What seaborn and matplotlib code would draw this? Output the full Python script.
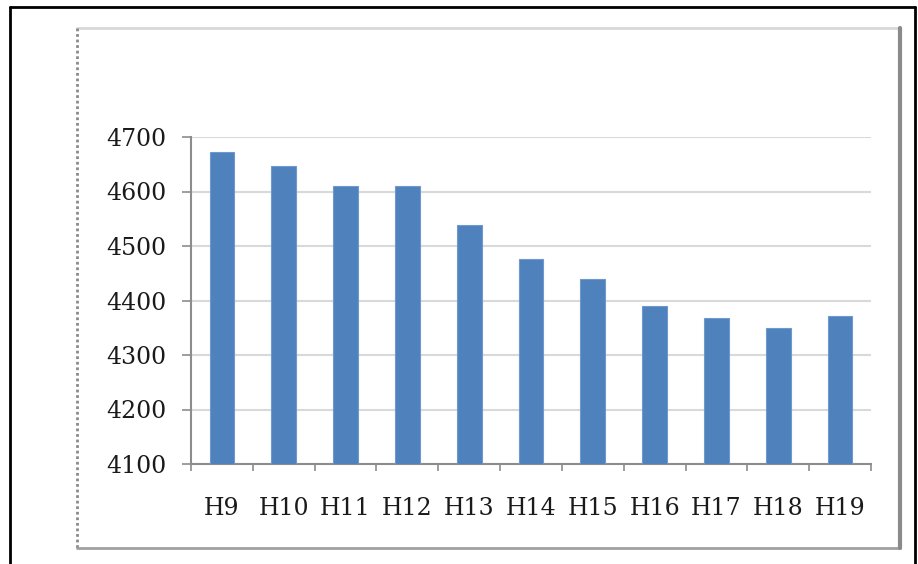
import matplotlib
matplotlib.use("Agg")
import matplotlib.pyplot as plt
from matplotlib.lines import Line2D
import seaborn as sns
import pandas as pd

# Fiscal years (Heisei) and the yearly totals
years = ["H9", "H10", "H11", "H12", "H13", "H14", "H15", "H16", "H17", "H18", "H19"]
totals = [4672, 4647, 4610, 4610, 4539, 4477, 4440, 4390, 4368, 4349, 4372]
y_ticks = [4100, 4200, 4300, 4400, 4500, 4600, 4700]

df = pd.DataFrame({"year": years, "total": totals})

sns.set_theme(style="white")
plt.rcParams["font.family"] = ["DejaVu Serif"]

W, H = 918, 564
fig = plt.figure(figsize=(W / 100, H / 100), dpi=100)
fig.patch.set_facecolor("white")

ax = fig.add_axes([191 / W, (H - 464) / H, 680 / W, 327 / H])
sns.barplot(data=df, x="year", y="total", color="#4f81bd", width=0.4,
            saturation=1, edgecolor="#6f98cc", linewidth=0.8, ax=ax, zorder=3)

ax.set_ylim(y_ticks[0], y_ticks[-1])
ax.set_xlim(-0.5, len(years) - 0.5)
ax.set_yticks(y_ticks)
ax.set_xlabel("")
ax.set_ylabel("")

ax.yaxis.grid(True, color="#d9d9d9", linewidth=1.5, zorder=0)
ax.xaxis.grid(False)
ax.set_axisbelow(True)

for side in ("top", "right"):
    ax.spines[side].set_visible(False)
for side in ("left", "bottom"):
    ax.spines[side].set_color("#8c8c8c")
    ax.spines[side].set_linewidth(1.5)

ax.tick_params(axis="y", which="major", left=True, length=6.5, width=1.2,
               color="#8c8c8c", pad=11, labelsize=17, labelcolor="#1a1a1a")
ax.tick_params(axis="x", which="major", bottom=False, pad=18,
               labelsize=17, labelcolor="#1a1a1a")
ax.set_xticks([i - 0.5 for i in range(len(years) + 1)], minor=True)
ax.tick_params(axis="x", which="minor", bottom=True, length=5, width=1.2,
               color="#8c8c8c")

# Chart frame: outer black border and inner grey chart-area border
def fig_line(x0, y0, x1, y1, **kw):
    fig.add_artist(Line2D([x0 / W, x1 / W], [1 - y0 / H, 1 - y1 / H],
                          transform=fig.transFigure, **kw))

fig_line(10, 7, 915, 7, color="black", linewidth=2)
fig_line(10, 7, 10, H + 2, color="black", linewidth=2)
fig_line(915, 7, 915, H + 2, color="black", linewidth=2)

fig_line(77, 28, 900, 28, color="#d8d8d8", linewidth=2)
fig_line(77, 28, 77, 548, color="#8a8a8a", linewidth=2, linestyle=(0, (1, 1)))
fig_line(77, 548, 900, 548, color="#a0a0a0", linewidth=2)
fig_line(900, 28, 900, 548, color="#8a8a8a", linewidth=3)

fig.savefig("out.png", dpi=100, facecolor="white")
